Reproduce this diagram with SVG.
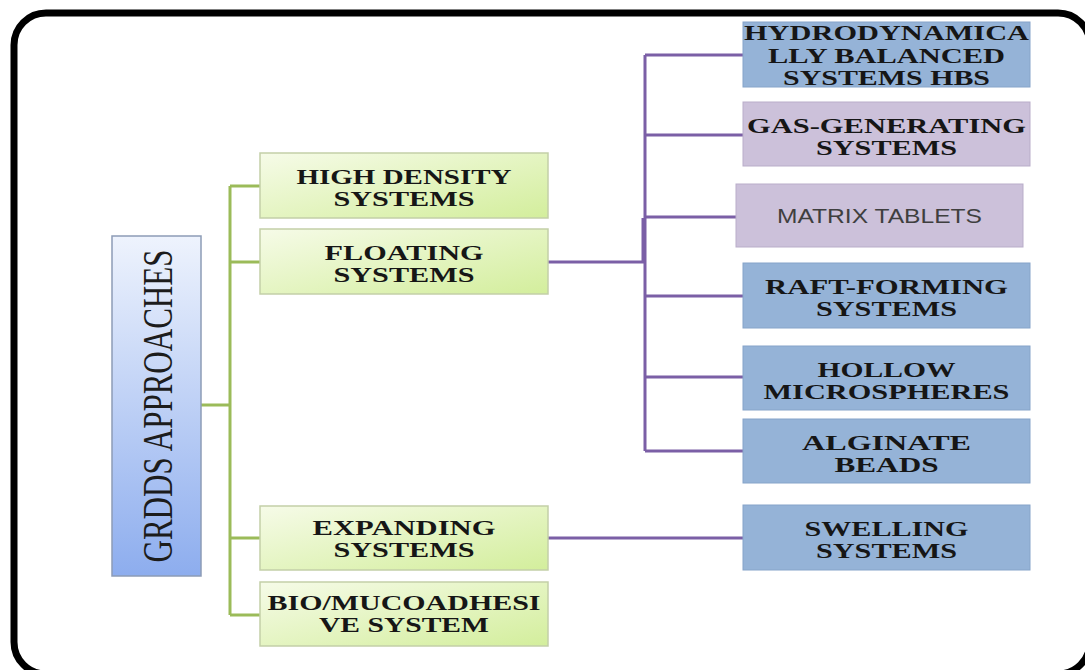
<svg xmlns="http://www.w3.org/2000/svg" width="1085" height="670" viewBox="0 0 1085 670">
<defs>
<linearGradient id="gBlue" x1="0" y1="0" x2="0" y2="1">
<stop offset="0" stop-color="#eef3fd"/>
<stop offset="1" stop-color="#8dadee"/>
</linearGradient>
<linearGradient id="gGreen" x1="0" y1="0" x2="1" y2="1">
<stop offset="0" stop-color="#f6fbe8"/>
<stop offset="1" stop-color="#d3ee9c"/>
</linearGradient>
<style>
.serif{font-family:"Liberation Serif","Times New Roman",serif;font-weight:bold;font-size:22px;fill:#161616;text-anchor:middle}
.sans{font-family:"Liberation Sans",Arial,sans-serif;font-size:21px;fill:#3f3f3f;text-anchor:middle}
.green{fill:url(#gGreen);stroke:#c3cfa8;stroke-width:1.5}
.blue{fill:#95b3d7;stroke:#86a4c9;stroke-width:1}
.lav{fill:#ccc1da;stroke:#b9adc9;stroke-width:1}
.gline{stroke:#9bbb59;stroke-width:3;fill:none}
.pline{stroke:#7b5fa6;stroke-width:3;fill:none}
</style>
</defs>
<rect width="1085" height="670" fill="#ffffff"/>
<rect x="14" y="13" width="1076" height="661" rx="32" ry="32" fill="none" stroke="#000" stroke-width="7"/>

<g id="connectors">
<path class="gline" d="M201 405 H230 M230 186 V615 M230 186 H260 M230 262 H260 M230 538 H260 M230 615 H260"/>
<path class="pline" d="M548 262 H645 M645 55 V451 M645 55 H743 M645 135 H743 M645 217 H736 M645 296 H743 M645 377 H743 M645 451 H743 M548 538 H743"/>
<path class="pline" d="M643 218 V262" stroke-width="4"/>
</g>

<g id="grdds">
<rect x="112" y="236" width="89" height="340" fill="url(#gBlue)" stroke="#8d9cb6" stroke-width="1.5"/>
<text transform="translate(172,406) rotate(-90)" font-family="Liberation Serif,Times New Roman,serif" font-size="43" fill="#1c1c1c" text-anchor="middle" textLength="313" lengthAdjust="spacingAndGlyphs">GRDDS APPROACHES</text>
</g>

<g id="high-density">
<rect class="green" x="260" y="153" width="288" height="65"/>
<text class="serif" x="404" y="184" textLength="215" lengthAdjust="spacingAndGlyphs">HIGH DENSITY</text>
<text class="serif" x="404" y="206" textLength="141" lengthAdjust="spacingAndGlyphs">SYSTEMS</text>
</g>

<g id="floating">
<rect class="green" x="260" y="229" width="288" height="65"/>
<text class="serif" x="404" y="260" textLength="159" lengthAdjust="spacingAndGlyphs">FLOATING</text>
<text class="serif" x="404" y="282" textLength="141" lengthAdjust="spacingAndGlyphs">SYSTEMS</text>
</g>

<g id="expanding">
<rect class="green" x="260" y="506" width="288" height="64"/>
<text class="serif" x="404" y="535" textLength="183" lengthAdjust="spacingAndGlyphs">EXPANDING</text>
<text class="serif" x="404" y="557" textLength="141" lengthAdjust="spacingAndGlyphs">SYSTEMS</text>
</g>

<g id="bio">
<rect class="green" x="260" y="582" width="288" height="64"/>
<text class="serif" x="404" y="610" textLength="273" lengthAdjust="spacingAndGlyphs">BIO/MUCOADHESI</text>
<text class="serif" x="404" y="632" textLength="170" lengthAdjust="spacingAndGlyphs">VE SYSTEM</text>
</g>

<g id="hbs">
<rect class="blue" x="743" y="22" width="287" height="65"/>
<text class="serif" x="886.5" y="40" textLength="285" lengthAdjust="spacingAndGlyphs">HYDRODYNAMICA</text>
<text class="serif" x="886.5" y="63" textLength="237" lengthAdjust="spacingAndGlyphs">LLY BALANCED</text>
<text class="serif" x="886.5" y="85" textLength="207" lengthAdjust="spacingAndGlyphs">SYSTEMS HBS</text>
</g>

<g id="gas">
<rect class="lav" x="743" y="102" width="287" height="64"/>
<text class="serif" x="886.5" y="133" textLength="279" lengthAdjust="spacingAndGlyphs">GAS-GENERATING</text>
<text class="serif" x="886.5" y="155" textLength="141" lengthAdjust="spacingAndGlyphs">SYSTEMS</text>
</g>

<g id="matrix">
<rect class="lav" x="736" y="184" width="287" height="63"/>
<text class="sans" x="879.5" y="223" textLength="205" lengthAdjust="spacingAndGlyphs">MATRIX TABLETS</text>
</g>

<g id="raft">
<rect class="blue" x="743" y="263" width="287" height="65"/>
<text class="serif" x="886.5" y="294" textLength="243" lengthAdjust="spacingAndGlyphs">RAFT-FORMING</text>
<text class="serif" x="886.5" y="316" textLength="141" lengthAdjust="spacingAndGlyphs">SYSTEMS</text>
</g>

<g id="hollow">
<rect class="blue" x="743" y="346" width="287" height="64"/>
<text class="serif" x="886.5" y="377" textLength="138" lengthAdjust="spacingAndGlyphs">HOLLOW</text>
<text class="serif" x="886.5" y="399" textLength="246" lengthAdjust="spacingAndGlyphs">MICROSPHERES</text>
</g>

<g id="alginate">
<rect class="blue" x="743" y="419" width="287" height="64"/>
<text class="serif" x="886.5" y="450" textLength="169" lengthAdjust="spacingAndGlyphs">ALGINATE</text>
<text class="serif" x="886.5" y="472" textLength="104" lengthAdjust="spacingAndGlyphs">BEADS</text>
</g>

<g id="swelling">
<rect class="blue" x="743" y="505" width="287" height="65"/>
<text class="serif" x="886.5" y="536" textLength="164" lengthAdjust="spacingAndGlyphs">SWELLING</text>
<text class="serif" x="886.5" y="558" textLength="141" lengthAdjust="spacingAndGlyphs">SYSTEMS</text>
</g>
</svg>
